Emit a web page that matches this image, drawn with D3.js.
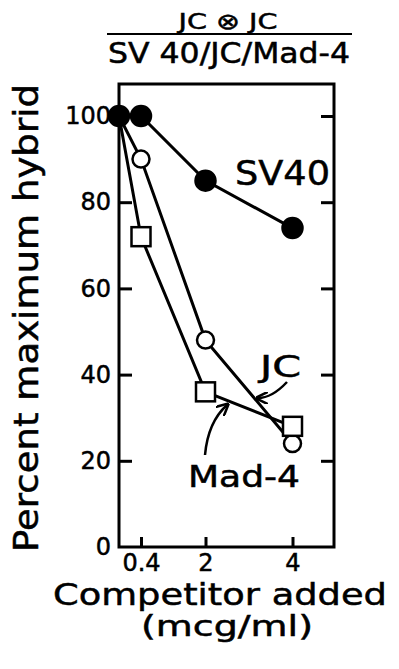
<!DOCTYPE html>
<html lang="en">
<head>
<meta charset="utf-8">
<title>Competition hybridization</title>
<script src="https://cdn.jsdelivr.net/npm/d3@7"></script>
<style>
body { margin: 0; background: #fff; }
text { font-family: "DejaVu Sans", sans-serif; fill: #000; stroke: #000; stroke-width: 0.5px; }
</style>
</head>
<body>
<script>
// data
var doses = [0, 0.4, 2, 4];
var sv40 = [100, 100, 85, 74];
var jc = [100, 90, 48, 24];
var mad4 = [100, 72, 36, 28];
var yTicks = [0, 20, 40, 60, 80, 100];
var xTicks = [0.4, 2, 4];
var xTickLabels = ["0.4", "2", "4"];

var w = 399, h = 669;
// plot frame (note: "top" is reserved on window, so prefix everything)
var frameL = 119, frameR = 334, frameT = 84, frameB = 547;

var svg = d3.select("body").append("svg")
    .attr("width", w)
    .attr("height", h);

// the printed x axis is not evenly spaced, so use a piecewise scale
var x = d3.scaleLinear().domain([0, 0.4, 2, 4, 5]).range([frameL, 141, 205.5, 292.5, frameR]);
var y = d3.scaleLinear().domain([0, 100]).range([frameB, 116]);

// header
svg.append("text")
    .attr("x", 228).attr("y", 29)
    .attr("text-anchor", "middle")
    .attr("font-size", 22)
    .attr("textLength", 99).attr("lengthAdjust", "spacingAndGlyphs")
    .text("JC \u2297 JC");
svg.append("line")
    .attr("x1", 107).attr("x2", 352)
    .attr("y1", 34).attr("y2", 34)
    .attr("stroke", "#000").attr("stroke-width", 2);
svg.append("text")
    .attr("x", 229).attr("y", 63)
    .attr("text-anchor", "middle")
    .attr("font-size", 28)
    .attr("textLength", 242).attr("lengthAdjust", "spacingAndGlyphs")
    .text("SV 40/JC/Mad-4");

// axes, ticks pointing inward
var gL = svg.append("g").attr("transform", "translate(" + frameL + ",0)")
    .call(d3.axisLeft(y).tickValues(yTicks).tickSize(-13).tickSizeOuter(0).tickPadding(8));
gL.selectAll(".tick text").attr("font-size", 24).attr("font-family", "DejaVu Sans");
gL.select(".tick line").remove();

var gR = svg.append("g").attr("transform", "translate(" + frameR + ",0)")
    .call(d3.axisRight(y).tickValues(yTicks.slice(1)).tickSize(-13).tickSizeOuter(0).tickFormat(""));

var gB = svg.append("g").attr("transform", "translate(0," + frameB + ")")
    .call(d3.axisBottom(x).tickValues(xTicks).tickSize(-10).tickSizeOuter(0).tickPadding(7)
        .tickFormat(function(d, i) { return xTickLabels[i]; }));
gB.selectAll(".tick text").attr("font-size", 24).attr("font-family", "DejaVu Sans");

svg.selectAll(".domain").remove();
svg.selectAll(".tick line").attr("stroke", "#000").attr("stroke-width", 3);

svg.append("rect")
    .attr("x", frameL).attr("y", frameT)
    .attr("width", frameR - frameL).attr("height", frameB - frameT)
    .attr("fill", "none").attr("stroke", "#000").attr("stroke-width", 3);

// axis titles
svg.append("text")
    .attr("transform", "translate(38,318) rotate(-90)")
    .attr("text-anchor", "middle")
    .attr("font-size", 34)
    .attr("textLength", 468).attr("lengthAdjust", "spacingAndGlyphs")
    .text("Percent maximum hybrid");
svg.append("text")
    .attr("x", 220).attr("y", 605)
    .attr("text-anchor", "middle")
    .attr("font-size", 31)
    .attr("textLength", 334).attr("lengthAdjust", "spacingAndGlyphs")
    .text("Competitor added");
svg.append("text")
    .attr("x", 227).attr("y", 636)
    .attr("text-anchor", "middle")
    .attr("font-size", 29)
    .attr("textLength", 172).attr("lengthAdjust", "spacingAndGlyphs")
    .text("(mcg/ml)");

// series lines
var line = d3.line()
    .x(function(d) { return x(d[0]); })
    .y(function(d) { return y(d[1]); });

var series = [
    { name: "jc", values: jc, marker: "circle", fill: "#fff" },
    { name: "mad4", values: mad4, marker: "square", fill: "#fff" },
    { name: "sv40", values: sv40, marker: "circle", fill: "#000" }
];

series.forEach(function(s) {
    var pts = doses.map(function(d, i) { return [d, s.values[i]]; });
    svg.append("path")
        .datum(pts)
        .attr("d", line)
        .attr("fill", "none")
        .attr("stroke", "#000")
        .attr("stroke-width", 3);
});

series.forEach(function(s) {
    var pts = doses.map(function(d, i) { return [d, s.values[i]]; });
    // open symbols share the origin point with SV40, only the filled one shows there
    if (s.fill === "#fff") pts = pts.slice(1);
    if (s.marker === "circle") {
        svg.selectAll(null).data(pts).enter().append("circle")
            .attr("cx", function(d) { return x(d[0]); })
            .attr("cy", function(d) { return y(d[1]); })
            .attr("r", s.fill === "#000" ? 10 : 8.5)
            .attr("fill", s.fill)
            .attr("stroke", "#000")
            .attr("stroke-width", 2.5);
    } else {
        svg.selectAll(null).data(pts).enter().append("rect")
            .attr("x", function(d) { return x(d[0]) - 9.5; })
            .attr("y", function(d) { return y(d[1]) - 9.5; })
            .attr("width", 19).attr("height", 19)
            .attr("fill", s.fill)
            .attr("stroke", "#000")
            .attr("stroke-width", 2.5);
    }
});

// series labels and arrows
svg.append("text")
    .attr("x", 235).attr("y", y(84))
    .attr("font-size", 34)
    .attr("textLength", 95).attr("lengthAdjust", "spacingAndGlyphs")
    .text("SV40");
svg.append("text")
    .attr("x", 260).attr("y", y(39.4))
    .attr("font-size", 30)
    .attr("textLength", 41).attr("lengthAdjust", "spacingAndGlyphs")
    .text("JC");
svg.append("text")
    .attr("x", 188).attr("y", y(14))
    .attr("font-size", 30)
    .attr("textLength", 112).attr("lengthAdjust", "spacingAndGlyphs")
    .text("Mad-4");

var defs = svg.append("defs");
defs.append("marker")
    .attr("id", "head")
    .attr("viewBox", "0 0 10 10")
    .attr("refX", 8).attr("refY", 5)
    .attr("markerWidth", 5).attr("markerHeight", 5)
    .attr("orient", "auto")
    .append("path")
    .attr("d", "M0,0 L10,5 L0,10")
    .attr("fill", "none")
    .attr("stroke", "#000")
    .attr("stroke-width", 2);

// arrow ends in pixel space, next to the labels they belong to
var arrows = [
    { from: [287, 382], ctrl: [272, 398], to: [258, 398] },
    { from: [205, 455], ctrl: [208, 422], to: [227, 405] }
];
arrows.forEach(function(a) {
    var p = d3.path();
    p.moveTo(a.from[0], a.from[1]);
    p.quadraticCurveTo(a.ctrl[0], a.ctrl[1], a.to[0], a.to[1]);
    svg.append("path")
        .attr("d", p.toString())
        .attr("fill", "none")
        .attr("stroke", "#000")
        .attr("stroke-width", 2.5)
        .attr("marker-end", "url(#head)");
});
</script>
</body>
</html>
